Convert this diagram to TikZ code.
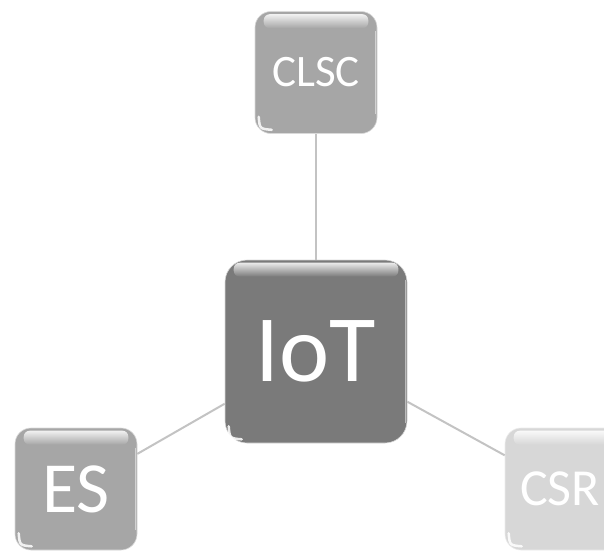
\documentclass[tikz,border=0pt]{standalone}
\usepackage{fontspec}
\setmainfont{Carlito}
\usetikzlibrary{fadings}
\tikzfading[name=fadedown, top color=transparent!0, bottom color=transparent!100]
\definecolor{midgray}{RGB}{166,166,166}
\definecolor{darkbox}{RGB}{122,122,122}
\definecolor{lightbox}{RGB}{215,215,215}
\definecolor{conncol}{RGB}{195,195,195}
\newcommand\glossy[1]{%
  \fill[white, path fading=fadedown, opacity=0.85, rounded corners=6pt]
    ([xshift=9pt,yshift=-3pt]#1.north west) rectangle ([xshift=-9pt,yshift=-17pt]#1.north east);
  \draw[white, line width=2.5pt, opacity=0.85, line cap=round]
    ([xshift=4pt,yshift=17pt]#1.south west) .. controls ([xshift=5pt,yshift=5pt]#1.south west) .. ([xshift=17pt,yshift=4pt]#1.south west);
  \draw[white, line width=1pt, opacity=0.5]
    ([xshift=-2pt,yshift=-20pt]#1.north east) -- ([xshift=-2pt,yshift=20pt]#1.south east);
}
\begin{document}
\begin{tikzpicture}[x=1pt,y=-1pt,
  box/.style={rounded corners=16pt, minimum width=122pt, minimum height=122pt, inner sep=0pt, text=white, draw=black!15, line width=0.6pt},
  conn/.style={draw=conncol, line width=2pt}]
\useasboundingbox (0,0) rectangle (604,550);
\clip (0,0) rectangle (604,550);
\node[box, fill=midgray, font=\fontsize{45}{45}\selectfont] (clsc) at (316,72.5) {CLSC};
\node[box, fill=darkbox, minimum width=182pt, minimum height=183pt, rounded corners=22pt, font=\fontsize{95}{95}\selectfont] (iot) at (316,351.5) {IoT};
\node[box, fill=midgray, font=\fontsize{72}{72}\selectfont] (es) at (76,489) {ES};
\node[box, fill=lightbox, draw=black!8, font=\fontsize{52}{52}\selectfont] (csr) at (566,489) {\hspace*{-12pt}CSR};
\draw[conn] (iot) -- (clsc);
\draw[conn] (iot) -- (es);
\draw[conn] (iot) -- (csr);
\glossy{clsc}
\glossy{iot}
\glossy{es}
\glossy{csr}
\end{tikzpicture}
\end{document}
